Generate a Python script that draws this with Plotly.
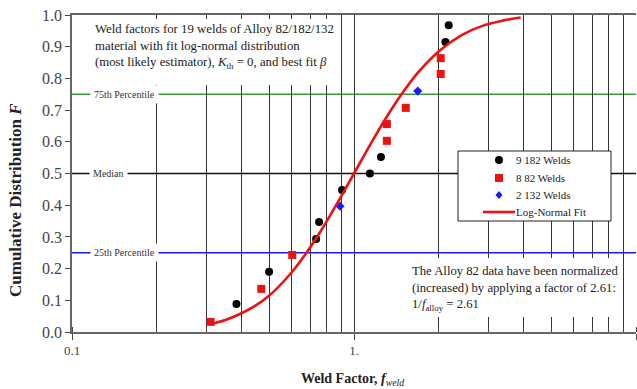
import plotly.graph_objects as go

# ---- data ----
w182_x = [0.383, 0.50, 0.734, 0.752, 0.907, 1.139, 1.246, 2.11, 2.167]
w182_F = [0.088, 0.19, 0.293, 0.347, 0.448, 0.50, 0.552, 0.915, 0.968]

w82_x = [0.310, 0.469, 0.604, 1.308, 1.308, 1.526, 2.03, 2.03]
w82_F = [0.032, 0.136, 0.243, 0.603, 0.656, 0.707, 0.814, 0.864]

w132_x = [0.892, 1.683]
w132_F = [0.397, 0.760]

fit_x = [0.31, 0.35, 0.392, 0.44, 0.501, 0.589, 0.666, 0.752, 0.885, 1.0, 1.15, 1.3,
         1.466, 1.7, 2.0, 2.4, 2.9, 3.4, 3.9]
fit_F = [0.025, 0.038, 0.056, 0.079, 0.115, 0.179, 0.240, 0.310, 0.416, 0.50, 0.596, 0.676,
         0.747, 0.822, 0.886, 0.936, 0.968, 0.983, 0.992]

percentile_levels = [0.25, 0.5, 0.75]
percentile_labels = ["25th Percentile", "Median", "75th Percentile"]
percentile_colors = ["#1a1aff", "#111111", "#3a9a3a"]

legend_names = ["9 182 Welds", "8 82 Welds", "2 132 Welds", "Log-Normal Fit"]

x_tickvals = [0.1, 1, 10]
x_ticktext = ["0.1", "1.", "10"]

SERIF = "Liberation Serif, Times New Roman, serif"
RED = "#ee1111"
BLUE = "#1a1aff"

# plot area geometry (pixels)
W, H = 637, 389
L, R, T, B = 72, 1, 15, 57
PW = W - L - R
PH = H - T - B


def px_x(px):
    return (px - L) / PW


def px_y(py):
    return (H - B - py) / PH


fig = go.Figure()

fig.add_trace(go.Scatter(x=w182_x, y=w182_F, mode="markers", name=legend_names[0],
                         marker=dict(symbol="circle", size=8, color="black")))
fig.add_trace(go.Scatter(x=w82_x, y=w82_F, mode="markers", name=legend_names[1],
                         marker=dict(symbol="square", size=8, color=RED)))
fig.add_trace(go.Scatter(x=w132_x, y=w132_F, mode="markers", name=legend_names[2],
                         marker=dict(symbol="diamond", size=7, color=BLUE)))
fig.add_trace(go.Scatter(x=fit_x, y=fit_F, mode="lines", name=legend_names[3],
                         line=dict(color=RED, width=2.6, shape="spline", smoothing=1)))

shapes = []
# percentile lines
for lev, col in zip(percentile_levels, percentile_colors):
    shapes.append(dict(type="line", xref="paper", yref="y", x0=0, x1=1, y0=lev, y1=lev,
                       line=dict(color=col, width=1.6), layer="below"))
# white boxes covering the grid
shapes.append(dict(type="rect", xref="paper", yref="paper",
                   x0=px_x(82), x1=px_x(337), y0=px_y(85), y1=px_y(19),
                   fillcolor="white", line=dict(width=0), layer="above"))
shapes.append(dict(type="rect", xref="paper", yref="paper",
                   x0=px_x(405), x1=px_x(621), y0=px_y(317), y1=px_y(258),
                   fillcolor="white", line=dict(width=0), layer="above"))
# legend box and keys
shapes.append(dict(type="rect", xref="paper", yref="paper",
                   x0=px_x(458), x1=px_x(611), y0=px_y(221), y1=px_y(151),
                   fillcolor="white", line=dict(color="#222", width=1), layer="above"))
row_y = [160, 178, 195, 212]
mx = 499
shapes.append(dict(type="circle", xref="paper", yref="paper",
                   x0=px_x(mx - 4), x1=px_x(mx + 4), y0=px_y(row_y[0] + 4), y1=px_y(row_y[0] - 4),
                   fillcolor="black", line=dict(width=0), layer="above"))
shapes.append(dict(type="rect", xref="paper", yref="paper",
                   x0=px_x(mx - 4), x1=px_x(mx + 4), y0=px_y(row_y[1] + 4), y1=px_y(row_y[1] - 4),
                   fillcolor=RED, line=dict(width=0), layer="above"))
dpath = "M {a},{b} L {c},{d} L {a},{e} L {f},{d} Z".format(
    a=px_x(mx), b=px_y(row_y[2] - 4), c=px_x(mx + 3.5), d=px_y(row_y[2]),
    e=px_y(row_y[2] + 4), f=px_x(mx - 3.5))
shapes.append(dict(type="path", xref="paper", yref="paper", path=dpath,
                   fillcolor=BLUE, line=dict(width=0), layer="above"))
shapes.append(dict(type="line", xref="paper", yref="paper",
                   x0=px_x(483), x1=px_x(515), y0=px_y(row_y[3]), y1=px_y(row_y[3]),
                   line=dict(color=RED, width=2.6), layer="above"))

annotations = []
for name, ry in zip(legend_names, row_y):
    annotations.append(dict(xref="paper", yref="paper", x=px_x(514), y=px_y(ry),
                            xanchor="left", yanchor="middle", showarrow=False, text=name,
                            font=dict(family=SERIF, size=11, color="#222")))
annotations.append(dict(
    xref="paper", yref="paper", x=px_x(93), y=px_y(20), xanchor="left", yanchor="top",
    align="left", showarrow=False,
    text="Weld factors for 19 welds of Alloy 82/182/132<br>material with fit log-normal distribution<br>"
         "(most likely estimator), <i>K</i><sub>th</sub> = 0, and best fit <i>β</i>",
    font=dict(family=SERIF, size=12.8, color="#222")))
annotations.append(dict(
    xref="paper", yref="paper", x=px_x(410), y=px_y(262), xanchor="left", yanchor="top",
    align="left", showarrow=False,
    text="The Alloy 82 data have been normalized<br>(increased) by applying a factor of 2.61:<br>"
         "1/<i>f</i><sub>alloy</sub> = 2.61",
    font=dict(family=SERIF, size=12.7, color="#222")))
label_centers = [124, 108, 124]
for lev, lab, cx in zip(percentile_levels, percentile_labels, label_centers):
    annotations.append(dict(xref="paper", yref="y", x=px_x(cx), y=lev, showarrow=False,
                            xanchor="center", yanchor="middle",
                            text=lab, bgcolor="white", borderpad=3,
                            font=dict(family=SERIF, size=10, color="#333")))
annotations.append(dict(xref="paper", yref="paper", x=px_x(16), y=px_y(200), showarrow=False,
                        xanchor="center", yanchor="middle",
                        textangle=-90, text="<b>Cumulative Distribution <i>F</i></b>",
                        font=dict(family=SERIF, size=17, color="#222")))
annotations.append(dict(xref="paper", yref="paper", x=px_x(352), y=px_y(379), showarrow=False,
                        xanchor="center", yanchor="middle",
                        text="<b>Weld Factor, <i>f</i></b><sub><i>weld</i></sub>",
                        font=dict(family=SERIF, size=14, color="#222")))

fig.update_layout(
    width=W, height=H,
    margin=dict(l=L, r=R, t=T, b=B, pad=0),
    paper_bgcolor="white", plot_bgcolor="white",
    showlegend=False,
    shapes=shapes, annotations=annotations,
    xaxis=dict(type="log", range=[-1, 1], tickvals=x_tickvals, ticktext=x_ticktext,
               ticks="outside", ticklen=6, tickcolor="#444",
               showgrid=True, gridcolor="#333", gridwidth=1.3,
               minor=dict(ticks="inside", ticklen=5, tickcolor="#444", showgrid=True,
                          gridcolor="#333", gridwidth=1.3, dtick="D1"),
               showline=True, linecolor="#666", linewidth=1.5, mirror=True,
               zeroline=False,
               tickfont=dict(family=SERIF, size=13, color="#444")),
    yaxis=dict(range=[0, 1], dtick=0.1, tickformat=".1f",
               ticks="outside", ticklen=5, tickcolor="#444",
               showgrid=False, zeroline=False,
               showline=True, linecolor="#666", linewidth=1.5,
               tickfont=dict(family=SERIF, size=16, color="#444")),
)

fig.write_html("out.html")
